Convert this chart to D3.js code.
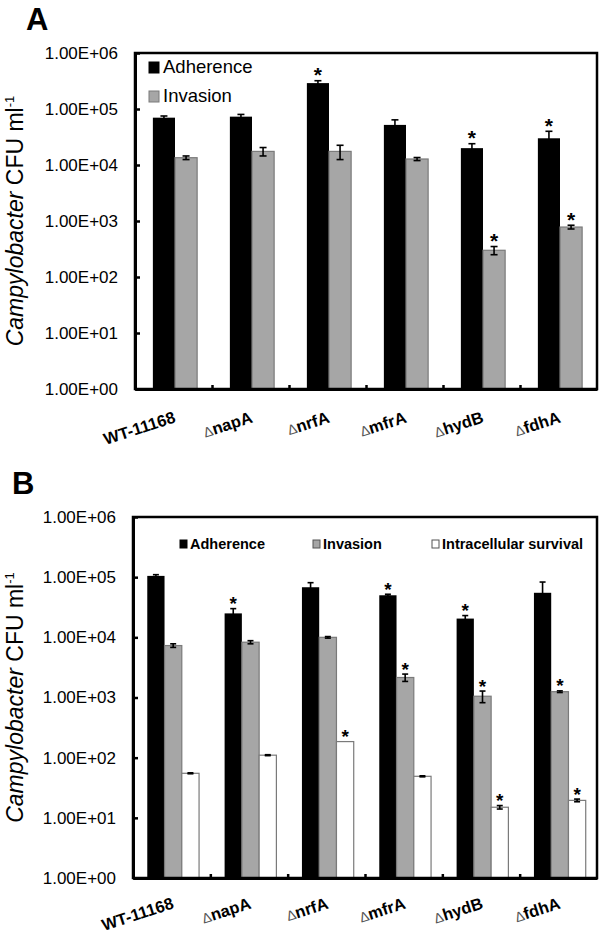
<!DOCTYPE html>
<html>
<head>
<meta charset="utf-8">
<script src="https://cdn.jsdelivr.net/npm/d3@7/dist/d3.min.js"></script>
<style>
  html, body { margin: 0; padding: 0; background: #fff; }
  svg { display: block; font-family: "Liberation Sans", Arial, sans-serif; }
</style>
</head>
<body>
<svg id="chart" width="600" height="937"></svg>
<script>
// ---------- data ----------
const categories = ["WT-11168", "ΔnapA", "ΔnrfA", "ΔmfrA", "ΔhydB", "ΔfdhA"];
const tickValues = [1, 10, 100, 1000, 10000, 100000, 1000000];
const tickLabels = ["1.00E+00", "1.00E+01", "1.00E+02", "1.00E+03", "1.00E+04", "1.00E+05", "1.00E+06"];

// Panel A
const seriesA = ["Adherence", "Invasion"];
const adherenceA = [70000, 73000, 290000, 52000, 20000, 30000];
const adherenceAErr = [5000, 7000, 30000, 12000, 4000, 10000];
const adherenceAStar = [0, 0, 1, 0, 1, 1];
const invasionA = [13500, 17500, 17500, 12800, 300, 780];
const invasionAErr = [1000, 3000, 5000, 800, 50, 60];
const invasionAStar = [0, 0, 0, 0, 1, 1];

// Panel B
const seriesB = ["Adherence", "Invasion", "Intracellular survival"];
const adherenceB = [105000, 25000, 68000, 50000, 20500, 55000];
const adherenceBErr = [5000, 5000, 13000, 2000, 2500, 28000];
const adherenceBStar = [0, 1, 0, 1, 1, 0];
const invasionB = [7300, 8300, 10000, 2150, 1050, 1250];
const invasionBErr = [500, 500, 300, 300, 230, 40];
const invasionBStar = [0, 0, 0, 1, 1, 1];
const survivalB = [55, 110, 185, 49, 15, 19.5];
const survivalBErr = [1, 2, 0, 1, 1, 1];
const survivalBStar = [0, 0, 1, 0, 1, 1];

// ---------- styles ----------
const fills = { "Adherence": "#000000", "Invasion": "#a6a6a6", "Intracellular survival": "#ffffff" };
const strokes = { "Adherence": "#000000", "Invasion": "#7a7a7a", "Intracellular survival": "#7a7a7a" };

const svg = d3.select("#chart");

function drawPanel(cfg) {
  const { left, right, top, bottom, letter, letterPos, series, values, errs, stars, capW, starSize, labelOffset } = cfg;
  const g = svg.append("g");

  const y = d3.scaleLog().domain([1, 1e6]).range([bottom, top]);
  const x0 = d3.scaleBand().domain(categories).range([left, right]).padding(0);
  const x1 = d3.scaleBand().domain(series).range([1.5, x0.bandwidth() + 1.5]).paddingInner(0).paddingOuter(0.74);

  // panel letter
  g.append("text").attr("x", letterPos[0]).attr("y", letterPos[1])
    .attr("font-size", 31).attr("font-weight", "bold").text(letter);

  // bars
  series.forEach((s, si) => {
    const grp = g.append("g");
    grp.selectAll("rect").data(values[si]).join("rect")
      .attr("x", (d, i) => x0(categories[i]) + x1(s))
      .attr("width", x1.bandwidth())
      .attr("y", d => y(d))
      .attr("height", d => y(1) - y(d))
      .attr("fill", fills[s])
      .attr("stroke", strokes[s])
      .attr("stroke-width", s === "Adherence" ? 0 : 1.2);
  });

  // error bars and stars
  series.forEach((s, si) => {
    values[si].forEach((v, i) => {
      const e = errs[si][i];
      const cx = x0(categories[i]) + x1(s) + x1.bandwidth() / 2;
      if (e > 0) {
        const y1 = y(v + e), y2 = y(Math.max(v - e, 1));
        g.append("line").attr("x1", cx).attr("x2", cx).attr("y1", y1).attr("y2", y2)
          .attr("stroke", "#000").attr("stroke-width", 1.6);
        [y1, y2].forEach(yy => g.append("line")
          .attr("x1", cx - capW / 2).attr("x2", cx + capW / 2).attr("y1", yy).attr("y2", yy)
          .attr("stroke", "#000").attr("stroke-width", 1.6));
      }
      if (stars[si][i]) {
        g.append("text").attr("x", cx).attr("y", y(v + e) + 1.5)
          .attr("text-anchor", "middle").attr("font-size", starSize).attr("font-weight", "bold")
          .text("*");
      }
    });
  });

  // frame
  g.append("rect").attr("x", left).attr("y", top).attr("width", right - left).attr("height", bottom - top)
    .attr("fill", "none").attr("stroke", "#000").attr("stroke-width", 2.5);

  // y axis
  const yAxis = d3.axisLeft(y).tickValues(tickValues)
    .tickFormat((d, i) => tickLabels[i]).tickSizeInner(-5).tickSizeOuter(0).tickPadding(17);
  const ya = g.append("g").attr("transform", `translate(${left},0)`).call(yAxis);
  ya.select(".domain").attr("stroke-width", 3);
  ya.selectAll(".tick line").attr("stroke-width", 2.5);
  ya.selectAll(".tick text").attr("font-size", 17).attr("font-family", "'Liberation Sans', Arial, sans-serif").attr("fill", "#000");

  // bottom axis with boundary ticks
  const xb = d3.scaleLinear().domain([0, categories.length]).range([left, right]);
  const xAxis = d3.axisBottom(xb).tickValues(d3.range(1, categories.length))
    .tickFormat("").tickSizeInner(-4).tickSizeOuter(0);
  const xa = g.append("g").attr("transform", `translate(0,${bottom})`).call(xAxis);
  xa.select(".domain").attr("stroke-width", 3);
  xa.selectAll(".tick line").attr("stroke-width", 2.5);

  // x labels
  categories.forEach(c => {
    const cx = x0(c) + x0.bandwidth() / 2 + 3;
    const t = g.append("text").attr("text-anchor", "end")
      .attr("transform", `translate(${cx},${bottom + labelOffset}) rotate(-18)`)
      .attr("font-size", 16.5).attr("font-weight", "bold");
    if (c.startsWith("Δ")) {
      t.append("tspan").attr("font-weight", "normal").attr("font-size", 14).attr("fill", "#555").text("Δ");
      t.append("tspan").text(c.slice(1));
    } else {
      t.text(c);
    }
  });

  // y title
  const yt = g.append("text").attr("text-anchor", "middle")
    .attr("transform", `translate(23,${(top + bottom) / 2}) rotate(-90)`)
    .attr("font-size", 23);
  yt.append("tspan").attr("font-style", "italic").text("Campylobacter");
  yt.append("tspan").text(" CFU ml");
  yt.append("tspan").attr("font-size", 13).attr("dy", -9).text("-1");

  return g;
}

// Panel A
const gA = drawPanel({
  left: 135, right: 597, top: 53, bottom: 389, letter: "A", letterPos: [26, 30],
  series: seriesA, values: [adherenceA, invasionA], errs: [adherenceAErr, invasionAErr],
  stars: [adherenceAStar, invasionAStar], capW: 7, starSize: 21, labelOffset: 33
});
// Legend A
[["Adherence", 62, 73], ["Invasion", 91, 102]].forEach(([s, ySq, yTx]) => {
  gA.append("rect").attr("x", 149).attr("y", ySq).attr("width", 10).attr("height", 11)
    .attr("fill", fills[s]).attr("stroke", s === "Adherence" ? "#000" : "#7a7a7a").attr("stroke-width", 1);
  gA.append("text").attr("x", 163).attr("y", yTx).attr("font-size", 18.5).text(s);
});

// Panel B
const gB = drawPanel({
  left: 133, right: 597, top: 517, bottom: 878, letter: "B", letterPos: [12, 494],
  series: seriesB, values: [adherenceB, invasionB, survivalB], errs: [adherenceBErr, invasionBErr, survivalBErr],
  stars: [adherenceBStar, invasionBStar, survivalBStar], capW: 6, starSize: 19, labelOffset: 30
});
// Legend B
[["Adherence", 180, 190], ["Invasion", 313, 323], ["Intracellular survival", 432, 442]].forEach(([s, xSq, xTx]) => {
  gB.append("rect").attr("x", xSq).attr("y", 540).attr("width", 7).attr("height", 8)
    .attr("fill", fills[s]).attr("stroke", s === "Adherence" ? "#000" : "#555").attr("stroke-width", 1);
  gB.append("text").attr("x", xTx).attr("y", 549).attr("font-size", 14.5).attr("font-weight", "bold").text(s);
});
</script>
</body>
</html>
